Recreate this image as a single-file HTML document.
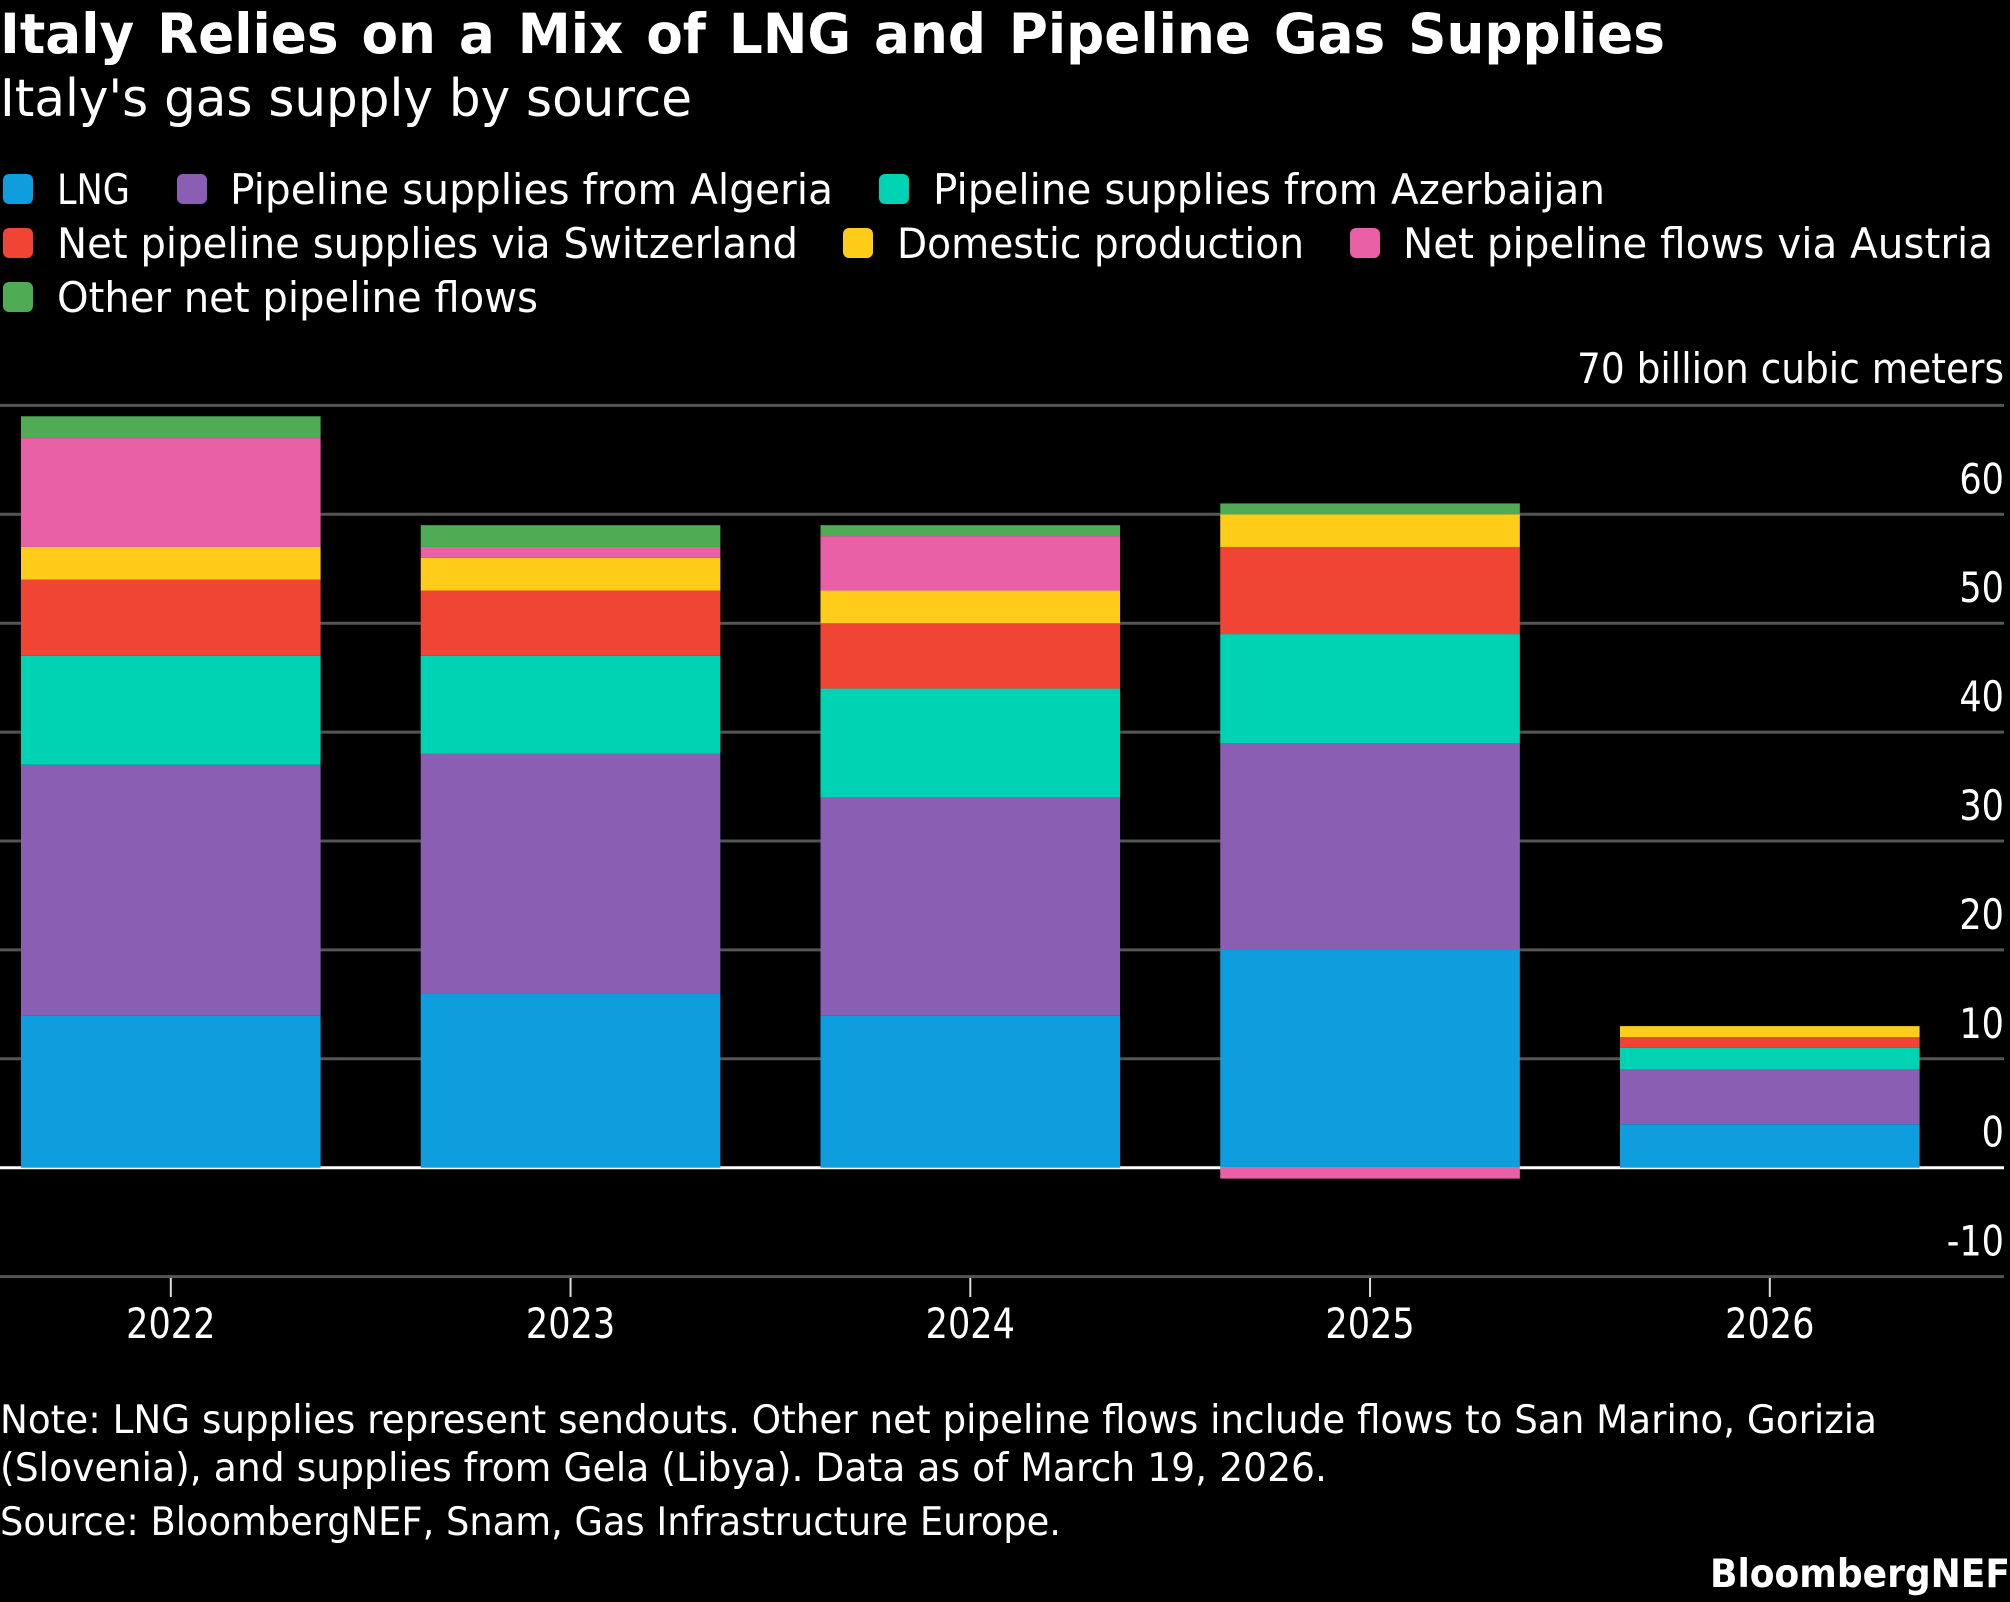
<!DOCTYPE html>
<html lang="en">
<head>
<meta charset="utf-8">
<title>Italy Relies on a Mix of LNG and Pipeline Gas Supplies</title>
<style>
html,body{margin:0;padding:0;background:#000;width:2010px;height:1602px;overflow:hidden}
svg{display:block}
text{font-family:"DejaVu Sans","Liberation Sans",sans-serif;fill:#fff;font-size:42px}
.note{font-size:39px}
</style>
</head>
<body>
<svg id="chart" xmlns="http://www.w3.org/2000/svg" width="2010" height="1602" viewBox="0 0 2010 1602">
<rect x="0" y="0" width="2010" height="1602" fill="#000"/>
<text x="0" y="53" font-weight="700" style="font-size:55px;word-spacing:4.5px" textLength="1665" lengthAdjust="spacingAndGlyphs">Italy Relies on a Mix of LNG and Pipeline Gas Supplies</text>
<text x="0" y="116" style="font-size:52px" textLength="692" lengthAdjust="spacingAndGlyphs">Italy's gas supply by source</text>

<g>
<g><rect x="3" y="174" width="30" height="30" rx="6" fill="#0f9edd"/><text x="57" y="204" textLength="73" lengthAdjust="spacingAndGlyphs">LNG</text></g>
<g><rect x="177" y="174" width="30" height="30" rx="6" fill="#8a5fb3"/><text x="230" y="204" textLength="603" lengthAdjust="spacingAndGlyphs">Pipeline supplies from Algeria</text></g>
<g><rect x="879" y="174" width="30" height="30" rx="6" fill="#00d3b4"/><text x="933" y="204" textLength="672" lengthAdjust="spacingAndGlyphs">Pipeline supplies from Azerbaijan</text></g>
<g><rect x="3" y="228" width="30" height="30" rx="6" fill="#f04535"/><text x="57" y="258" textLength="741" lengthAdjust="spacingAndGlyphs">Net pipeline supplies via Switzerland</text></g>
<g><rect x="843" y="228" width="30" height="30" rx="6" fill="#ffcc1a"/><text x="897" y="258" textLength="407" lengthAdjust="spacingAndGlyphs">Domestic production</text></g>
<g><rect x="1350" y="228" width="30" height="30" rx="6" fill="#e960a7"/><text x="1403" y="258" textLength="590" lengthAdjust="spacingAndGlyphs">Net pipeline flows via Austria</text></g>
<g><rect x="3" y="282" width="30" height="30" rx="6" fill="#4fac54"/><text x="57" y="312" textLength="481" lengthAdjust="spacingAndGlyphs">Other net pipeline flows</text></g>
</g>

<text x="2004" y="383" text-anchor="end" textLength="427" lengthAdjust="spacingAndGlyphs">70 billion cubic meters</text>

<g id="grid"></g>
<g id="bars"></g>
<g id="xaxis"></g>
<g id="yaxis"></g>

<g>
<text class="note" x="0" y="1433" textLength="1877" lengthAdjust="spacingAndGlyphs">Note: LNG supplies represent sendouts. Other net pipeline flows include flows to San Marino, Gorizia</text>
<text class="note" x="0" y="1481" textLength="1327" lengthAdjust="spacingAndGlyphs">(Slovenia), and supplies from Gela (Libya). Data as of March 19, 2026.</text>
<text class="note" x="0" y="1535" textLength="1061" lengthAdjust="spacingAndGlyphs">Source: BloombergNEF, Snam, Gas Infrastructure Europe.</text>
<text class="note" x="1710" y="1587" font-weight="700" textLength="300" lengthAdjust="spacingAndGlyphs">BloombergNEF</text>
</g>
</svg>
<script>
const categories = ['2022', '2023', '2024', '2025', '2026'];
const lng = [14, 16, 14, 20, 4];
const algeria = [23, 22, 20, 19, 5];
const azerbaijan = [10, 9, 10, 10, 2];
const switzerland = [7, 6, 6, 8, 1];
const domestic = [3, 3, 3, 3, 1];
const austria = [10, 1, 5, -1, 0];
const other = [2, 2, 1, 1, 0];
const yTicks = [70, 60, 50, 40, 30, 20, 10, 0, -10];
const yLabels = ['60', '50', '40', '30', '20', '10', '0', '-10'];

const seriesList = [
  {key: 'lng', values: lng, color: '#0f9edd'},
  {key: 'algeria', values: algeria, color: '#8a5fb3'},
  {key: 'azerbaijan', values: azerbaijan, color: '#00d3b4'},
  {key: 'switzerland', values: switzerland, color: '#f04535'},
  {key: 'domestic', values: domestic, color: '#ffcc1a'},
  {key: 'austria', values: austria, color: '#e960a7'},
  {key: 'other', values: other, color: '#4fac54'}
];

const NS = 'http://www.w3.org/2000/svg';
const yScale = v => 1167.7 - 10.89 * v;
const xCenter = i => 170.8 + 399.75 * i;
const barWidth = 299.6;
const condense = 0.835;

function make(tag, parent, attrs) {
  const el = document.createElementNS(NS, tag);
  Object.keys(attrs).forEach(k => el.setAttribute(k, attrs[k]));
  parent.appendChild(el);
  return el;
}

const grid = document.getElementById('grid');
yTicks.forEach(t => {
  const line = make('line', grid, {x1: 0, x2: 2004, y1: yScale(t), y2: yScale(t), stroke: t === 0 ? '#ffffff' : '#555555', 'stroke-width': 3});
  
  
});

const bars = document.getElementById('bars');
categories.forEach((cat, i) => {
  let pos = 0;
  let neg = 0;
  seriesList.forEach(s => {
    const v = s.values[i];
    if (v === 0) return;
    let top, bottom;
    if (v > 0) { top = pos + v; bottom = pos; pos = top; }
    else { top = neg; bottom = neg + v; neg = bottom; }
    const rect = make('rect', bars, {x: xCenter(i) - barWidth / 2, y: yScale(top), width: barWidth, height: yScale(bottom) - yScale(top), fill: s.color});
    
    
  });
});

function squeeze(el) {
  const natural = el.getComputedTextLength();
  el.setAttribute('textLength', natural * condense);
  el.setAttribute('lengthAdjust', 'spacingAndGlyphs');
}

const xaxis = document.getElementById('xaxis');
categories.forEach((cat, i) => {
  const tick = make('line', xaxis, {x1: xCenter(i), x2: xCenter(i), y1: 1278, y2: 1297, stroke: '#dddddd', 'stroke-width': 2});
  
  
  const label = make('text', xaxis, {x: xCenter(i), y: 1338, 'text-anchor': 'middle'});
  label.textContent = cat;
  
  
  squeeze(label);
});

const yaxis = document.getElementById('yaxis');
yLabels.forEach(t => {
  const label = make('text', yaxis, {x: 2004, y: yScale(Number(t)) - 21, 'text-anchor': 'end'});
  label.textContent = t;
  
  
  squeeze(label);
});
</script>
</body>
</html>
